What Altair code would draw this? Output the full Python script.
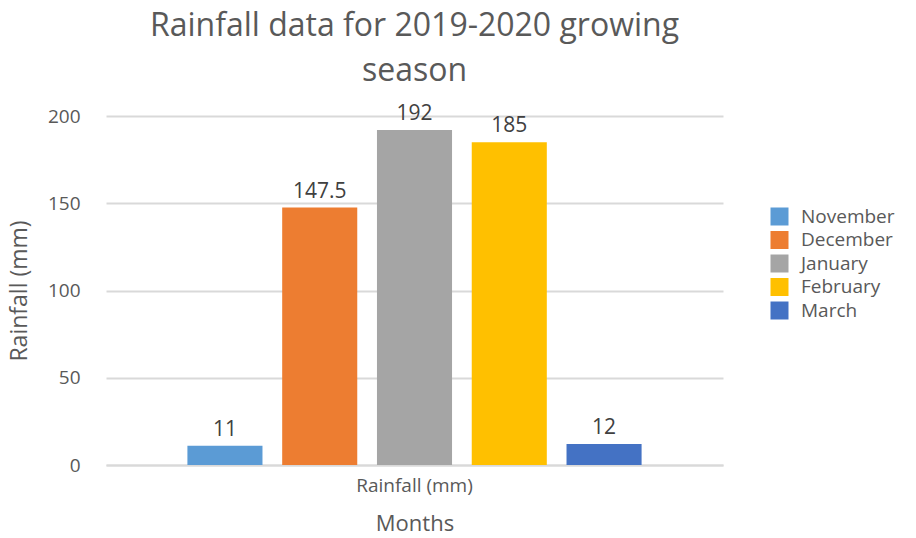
import altair as alt
import pandas as pd

months = ["November", "December", "January", "February", "March"]
rainfall = [11, 147.5, 192, 185, 12]
labels = ["11", "147.5", "192", "185", "12"]
colors = ["#5B9BD5", "#ED7D31", "#A5A5A5", "#FFC000", "#4472C4"]
category = "Rainfall (mm)"

df = pd.DataFrame({
    "cat": [category] * len(months),
    "month": months,
    "value": rainfall,
    "label": labels,
})

FONT = "Open Sans"

x = alt.X("cat:N", title="Months",
          scale=alt.Scale(paddingInner=0, paddingOuter=0.151),
          axis=alt.Axis(labelAngle=0, labelFontSize=19, labelColor="#595959",
                        titleFontSize=22, titleColor="#595959", titleFontWeight="normal",
                        domainColor="#d9d9d9", domainWidth=2, ticks=False, grid=False,
                        labelPadding=11, titlePadding=18))
xo = alt.XOffset("month:N", sort=months,
                 scale=alt.Scale(paddingInner=0.208, paddingOuter=0.104))
y = alt.Y("value:Q", title="Rainfall (mm)",
          scale=alt.Scale(domain=[0, 200], nice=False),
          axis=alt.Axis(values=[0, 50, 100, 150, 200], domain=False, ticks=False,
                        labelFontSize=19, labelColor="#595959", labelPadding=26,
                        titleFontSize=23, titleColor="#595959", titleFontWeight="normal",
                        gridColor="#d9d9d9", gridWidth=2, titlePadding=16))

bars = alt.Chart(df).mark_bar().encode(
    x=x, xOffset=xo, y=y,
    color=alt.Color("month:N", sort=months,
                    scale=alt.Scale(domain=months, range=colors),
                    legend=alt.Legend(title=None, orient="none", legendX=664, legendY=91,
                                      symbolType="square", symbolSize=324,
                                      symbolStrokeWidth=0, labelFontSize=19,
                                      labelColor="#595959", rowPadding=3.5,
                                      labelOffset=12)),
)

text = alt.Chart(df).mark_text(dy=-16, fontSize=21, color="#404040", font=FONT,
                               baseline="middle").encode(
    x=x, xOffset=xo, y=y, text="label:N")

chart = alt.layer(bars, text).properties(
    width=617, height=349,
    view=alt.ViewBackground(stroke="transparent", strokeWidth=0),
    title=alt.Title(["Rainfall data for 2019-2020 growing", "season"],
                    fontSize=32, fontWeight="normal", color="#595959", font=FONT,
                    lineHeight=45, anchor="middle", offset=15),
    autosize=alt.AutoSizeParams(type="none"),
    padding={"left": 106, "top": 116, "right": 193, "bottom": 73},
).configure_view(stroke="transparent", strokeWidth=0).configure_axisX(grid=False).configure(font=FONT)

chart.save("out.html", embed_options={"renderer": "svg", "actions": False})
